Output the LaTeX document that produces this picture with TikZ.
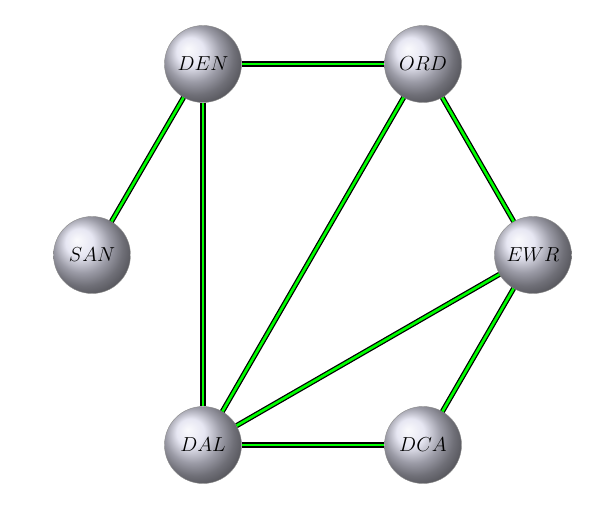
\documentclass[tikz,border=0pt]{standalone}
\usetikzlibrary{shapes.misc}
\tikzset{
    airport/.style = {
        circle,
        draw=black!45,
        line width=0.3pt,
        minimum size=1.925cm,
        inner sep=0pt,
        shading=ball,
        ball color={rgb,255:red,222;green,222;blue,238},
        font=\Large,
        },
    route/.style = {
        draw=black,
        line width=0.9pt,
        double=green,
        double distance=1.9pt,
        },
}
\begin{document}
\begin{tikzpicture}[x=0.025cm,y=-0.025cm]
            \useasboundingbox (0,0) rectangle (601,526);
            \node[airport] (DEN) at (203,64) {$DEN$};
            \node[airport] (ORD) at (423,64) {$ORD$};
            \node[airport] (SAN) at (92,255) {$SAN$};
            \node[airport] (EWR) at (533,255) {$EWR$};
            \node[airport] (DAL) at (203,445) {$DAL$};
            \node[airport] (DCA) at (423,445) {$DCA$};

            \path (DEN) edge[route] (ORD);
            \path (DEN) edge[route] (SAN);
            \path (DEN) edge[route] (DAL);
            \path (ORD) edge[route] (DAL);
            \path (ORD) edge[route] (EWR);
            \path (EWR) edge[route] (DAL);
            \path (EWR) edge[route] (DCA);
            \path (DAL) edge[route] (DCA);
        \end{tikzpicture}
\end{document}
